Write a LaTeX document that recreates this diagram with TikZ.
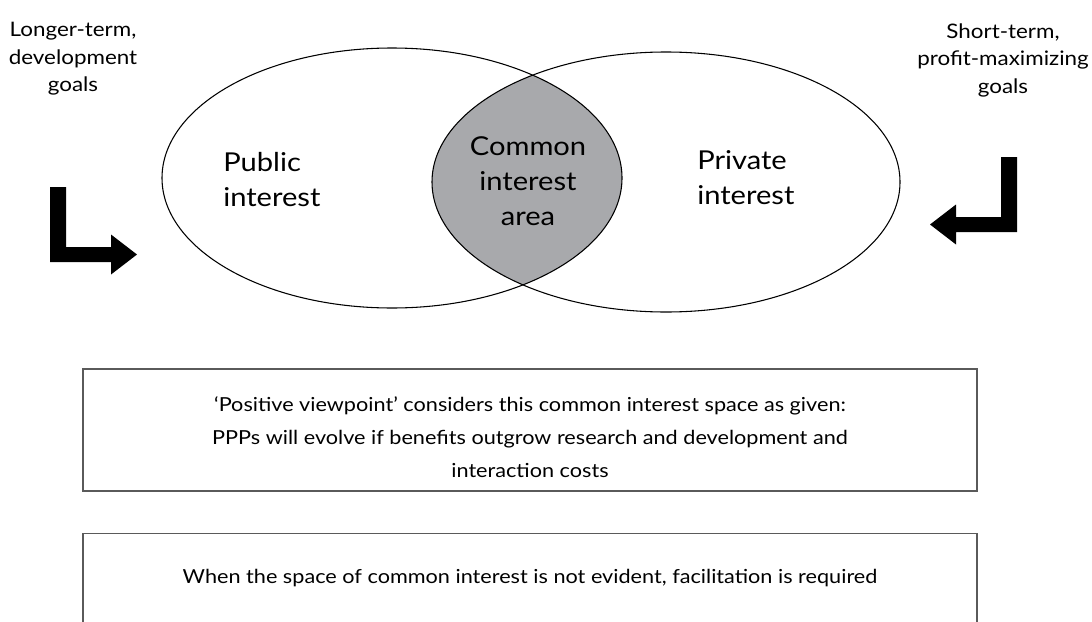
\documentclass[tikz,border=0pt]{standalone}
\usepackage{fontspec}
\setmainfont{Lato}[FakeStretch=1.12]
\usepackage{tikz}
\usetikzlibrary{positioning}
\definecolor{overlap}{HTML}{A8A9AC}
\definecolor{boxline}{HTML}{5A5A5A}

\tikzset{
  bentarrow/.pic={
    \fill (0,0) -- (0,-75) -- (16,-75) -- (16,-15) -- (61,-15) -- (61,-27.5)
      -- (87,-7.5) -- (61,12.5) -- (61,0) -- cycle;
  }
}

\begin{document}
\begin{tikzpicture}[x=0.75pt, y=-0.75pt, every node/.style={inner sep=0pt, align=center},
  goal/.style={font=\fontsize{15}{20.6}\selectfont},
  area/.style={font=\fontsize{19.5}{26.25}\selectfont},
  note/.style={draw=boxline, line width=1.1pt, font=\fontsize{14.5}{24.75}\selectfont, minimum width=670.5pt}]
\useasboundingbox (0,0) rectangle (1092,621);

% the two interests
\coordinate (pub) at (392,178);
\coordinate (priv) at (666,182);
\begin{scope}
  \clip (pub) ellipse [x radius=230, y radius=130];
  \fill[overlap] (priv) ellipse [x radius=234, y radius=130];
\end{scope}
\draw[line width=0.8pt] (pub) ellipse [x radius=230, y radius=130];
\draw[line width=0.8pt] (priv) ellipse [x radius=234, y radius=130];

\node[area, anchor=west, align=left] (pubtxt) at (223,180) {Public\\interest};
\node[area, anchor=west, align=left] (privtxt) at (697,178) {Private\\interest};
\node[area] (commontxt) at (528,181) {Common\\interest\\area};

% goals and arrows
\node[goal] (longgoal) at (73,59) {Longer-term,\\development\\goals};
\node[goal] (shortgoal) at (1003,60) {Short-term,\\profit-maximizing\\goals};
\pic at (50,262) {bentarrow};
\pic[xscale=-1] at (1017,232) {bentarrow};

% notes
\node[note, minimum height=91.5pt] (posbox) at (530,430)
  {\rule{0pt}{22pt}`Positive viewpoint' considers this common interest space as given:\\
   PPPs will evolve if benefits outgrow research and development and\\
   interaction costs};
\node[note, minimum height=67.5pt, below=30.75pt of posbox] (facbox)
  {When the space of common interest is not evident, facilitation is required};
\end{tikzpicture}
\end{document}
